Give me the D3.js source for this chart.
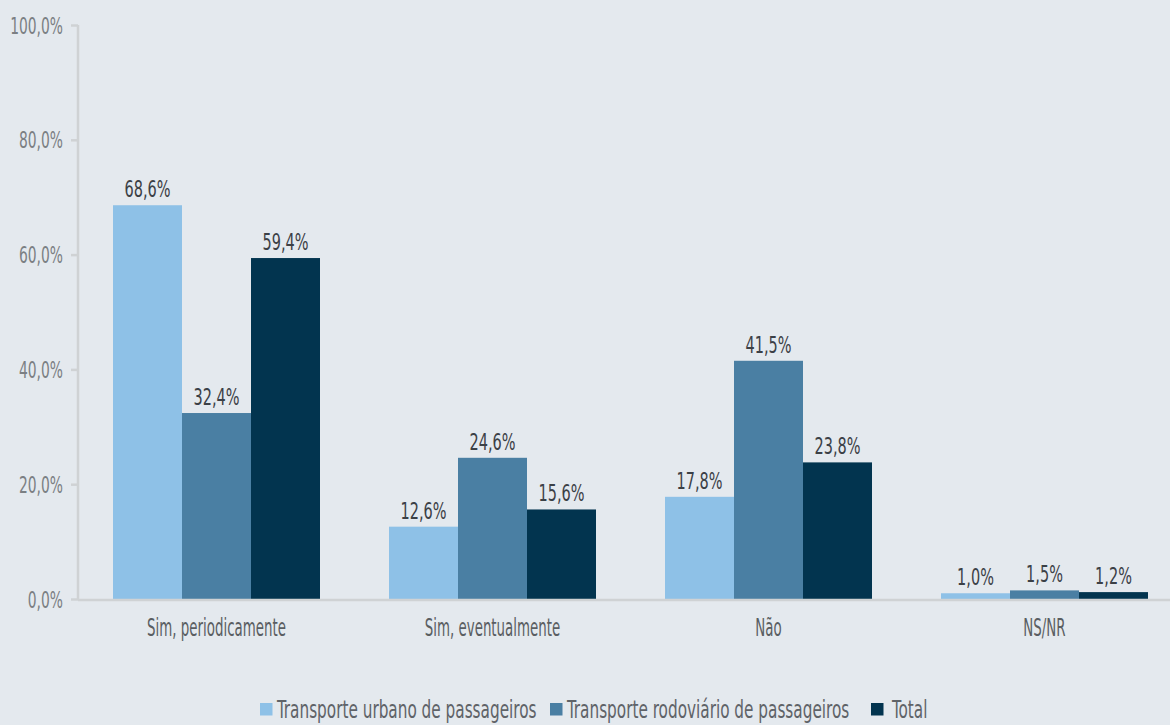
<!DOCTYPE html>
<html>
<head>
<meta charset="utf-8">
<script src="https://cdn.jsdelivr.net/npm/d3@7"></script>
<style>
  html, body { margin: 0; padding: 0; background: #e4e9ee; }
  svg { display: block; }
  text { font-family: "DejaVu Sans Condensed", "DejaVu Sans", sans-serif; }
</style>
</head>
<body>
<svg id="chart" width="1170" height="725"></svg>
<script>
// Response categories and shares per transport segment (%)
const categories = ["Sim, periodicamente", "Sim, eventualmente", "Não", "NS/NR"];
const seriesNames = ["Transporte urbano de passageiros", "Transporte rodoviário de passageiros", "Total"];
const urbano = [68.6, 12.6, 17.8, 1.0];
const rodoviario = [32.4, 24.6, 41.5, 1.5];
const total = [59.4, 15.6, 23.8, 1.2];
const yTicks = [0, 20, 40, 60, 80, 100];

const colors = ["#8ec1e7", "#4a7fa3", "#02344f"];
const seriesValues = [urbano, rodoviario, total];

const svg = d3.select("#chart");
const W = 1170, H = 725;
svg.append("rect").attr("width", W).attr("height", H).attr("fill", "#e4e9ee");

const fmt = v => v.toFixed(1).replace(".", ",") + "%";

// Narrow-text helper: places a horizontally condensed label at (x, y)
function narrowText(sel, x, y, sx) {
  return sel.attr("x", 0).attr("y", 0)
    .attr("transform", `translate(${x},${y}) scale(${sx},1)`);
}

const x0 = d3.scaleBand().domain(categories).range([78.5, 1182.5]).paddingInner(0.25).paddingOuter(0.125);
const x1 = d3.scaleBand().domain(d3.range(seriesNames.length)).range([0, x0.bandwidth()]);
const y = d3.scaleLinear().domain([0, 100]).range([599, 25]);

// Y axis
const yAxis = svg.append("g").attr("transform", "translate(78,0)")
  .call(d3.axisLeft(y).tickValues(yTicks).tickSize(7).tickPadding(15).tickFormat(fmt));
yAxis.select(".domain").attr("stroke", "#cfd2d4").attr("stroke-width", 2.5).attr("d", "M0," + y(100) + "V" + y(0));
yAxis.selectAll(".tick line").attr("stroke", "#cfd2d4").attr("stroke-width", 2.5);
yAxis.selectAll(".tick text")
  .attr("fill", "#7b7f83").attr("font-size", 23)
  .attr("dy", null)
  .each(function() { narrowText(d3.select(this), -15, 8, 0.67); });

// Bars
const groups = svg.append("g").selectAll("g").data(categories).join("g")
  .attr("transform", d => `translate(${x0(d)},0)`);

groups.selectAll("rect").data((d, i) => seriesValues.map((s, k) => ({k, v: s[i]})))
  .join("rect")
  .attr("x", d => x1(d.k))
  .attr("width", x1.bandwidth())
  .attr("y", d => y(d.v))
  .attr("height", d => y(0) - y(d.v))
  .attr("fill", d => colors[d.k]);

groups.selectAll("text").data((d, i) => seriesValues.map((s, k) => ({k, v: s[i]})))
  .join("text")
  .attr("text-anchor", "middle")
  .attr("font-size", 23)
  .attr("fill", "#3b4046")
  .text(d => fmt(d.v))
  .each(function(d) { narrowText(d3.select(this), x1(d.k) + x1.bandwidth() / 2, y(d.v) - 8, 0.7); });

// X axis
svg.append("line").attr("x1", 78).attr("x2", W).attr("y1", 600).attr("y2", 600)
  .attr("stroke", "#cfd2d4").attr("stroke-width", 2.5);
svg.append("g").selectAll("text").data(categories).join("text")
  .attr("text-anchor", "middle")
  .attr("font-size", 24)
  .attr("fill", "#5a5e62")
  .text(d => d)
  .each(function(d) { narrowText(d3.select(this), x0(d) + x0.bandwidth() / 2, 636, 0.62); });

// Legend
const legend = svg.append("g");
const legendItems = [
  {name: seriesNames[0], x: 260},
  {name: seriesNames[1], x: 550},
  {name: seriesNames[2], x: 871}
];
legendItems.forEach((it, i) => {
  legend.append("rect").attr("x", it.x).attr("y", 703).attr("width", 12.5).attr("height", 12.5).attr("fill", colors[i]);
  narrowText(legend.append("text").attr("font-size", 25).attr("fill", "#5f6368").text(it.name),
    it.x + (i === 2 ? 21 : 17), 718, 0.68);
});
</script>
</body>
</html>
